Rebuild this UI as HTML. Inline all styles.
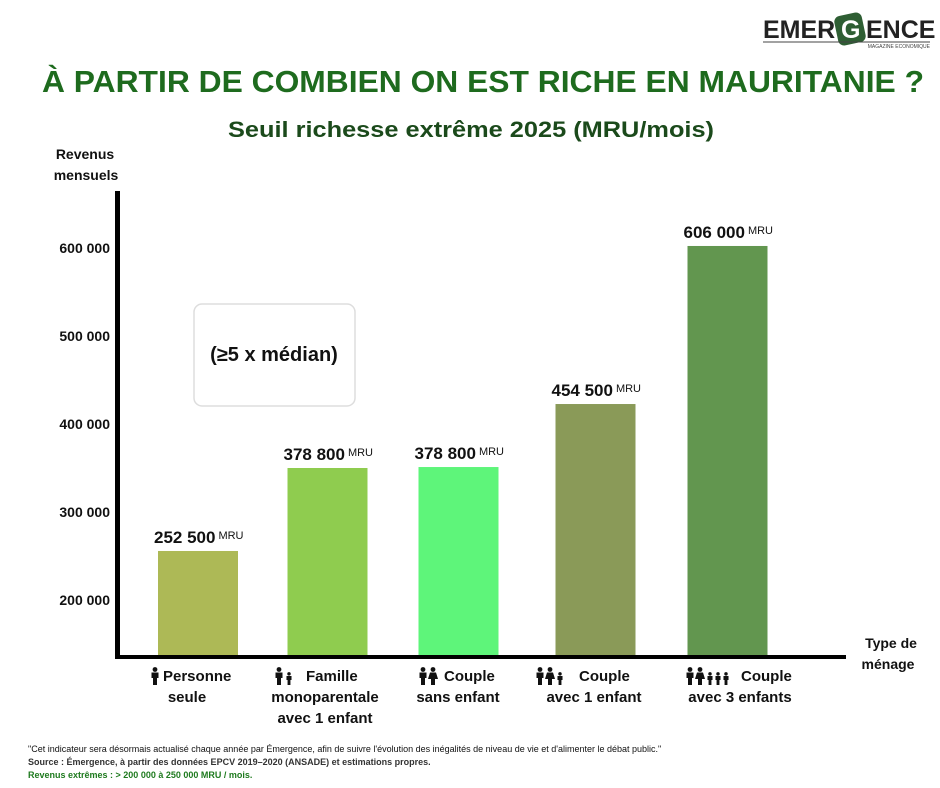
<!DOCTYPE html>
<html><head><meta charset="utf-8"><style>
html,body{margin:0;padding:0;background:#fff;}
#wrap{position:relative;width:940px;height:788px;overflow:hidden;font-family:"Liberation Sans",Arial,sans-serif;}
svg text{font-family:"Liberation Sans",Arial,sans-serif;}
</style></head><body>
<div id="wrap">
<svg id="chart" width="940" height="788" viewBox="0 0 940 788">
<g>
<text x="763" y="38" font-size="25" font-weight="bold" fill="#222">EMER</text>
<rect x="836" y="14" width="28" height="30" rx="6" fill="#2e5e33" transform="rotate(-12 850 29)"/>
<text x="841" y="38" font-size="25" font-weight="bold" fill="#fff">G</text>
<text x="866" y="38" font-size="25" font-weight="bold" fill="#222">ENCE</text>
<line x1="763" y1="42" x2="930" y2="42" stroke="#444" stroke-width="1"/>
<text x="930" y="48" font-size="5" fill="#444" text-anchor="end">MAGAZINE ECONOMIQUE</text>
</g>
<text x="483" y="92" font-size="31" font-weight="bold" fill="#1e6b1e" text-anchor="middle" textLength="882" lengthAdjust="spacingAndGlyphs">À PARTIR DE COMBIEN ON EST RICHE EN MAURITANIE ?</text>
<text x="471" y="137" font-size="22" font-weight="bold" fill="#1b4a1b" text-anchor="middle" textLength="486" lengthAdjust="spacingAndGlyphs">Seuil richesse extrême 2025 (MRU/mois)</text>
<text x="85" y="159" font-size="14" font-weight="bold" fill="#111" text-anchor="middle">Revenus</text>
<text x="86" y="180" font-size="14" font-weight="bold" fill="#111" text-anchor="middle">mensuels</text>
<text x="891" y="648" font-size="14" font-weight="bold" fill="#111" text-anchor="middle">Type de</text>
<text x="888" y="669" font-size="14" font-weight="bold" fill="#111" text-anchor="middle">ménage</text>
<g>
<rect x="194" y="304" width="161" height="102" rx="8" fill="#fff" stroke="#ddd" stroke-width="1.5"/>
<text x="274" y="361" font-size="20" font-weight="bold" fill="#111" text-anchor="middle">(≥5 x médian)</text>
</g>
<g id="yticks"></g>
<g id="bars"></g>
<line x1="117.5" y1="191" x2="117.5" y2="659" stroke="#000" stroke-width="5"/>
<line x1="115" y1="657" x2="846" y2="657" stroke="#000" stroke-width="4"/>
<g id="xlabels"></g>
<text x="28" y="752" font-size="9" fill="#111">"Cet indicateur sera désormais actualisé chaque année par Émergence, afin de suivre l'évolution des inégalités de niveau de vie et d'alimenter le débat public."</text>
<text x="28" y="765" font-size="9" font-weight="bold" fill="#333">Source : Émergence, à partir des données EPCV 2019–2020 (ANSADE) et estimations propres.</text>
<text x="28" y="778" font-size="9" font-weight="bold" fill="#1e7a1e">Revenus extrêmes : &gt; 200 000 à 250 000 MRU / mois.</text>
</svg>
</div>
<script>
const tickValues = [200000, 300000, 400000, 500000, 600000];
const tickLabels = ["200 000", "300 000", "400 000", "500 000", "600 000"];
const categories = ["Personne seule", "Famille monoparentale avec 1 enfant", "Couple sans enfant", "Couple avec 1 enfant", "Couple avec 3 enfants"];
const barValues = [255700, 350000, 351100, 422700, 602300];
const valueLabels = ["252 500", "378 800", "378 800", "454 500", "606 000"];
const barColors = ["#adb956", "#8fcc4f", "#5ef57a", "#8a9a58", "#62964f"];

const NS = "http://www.w3.org/2000/svg";
function y(v){ return 600 - (v - 200000) / 100000 * 88; }
const baseY = 657;
const bandCenters = [198, 327.5, 458.5, 595.5, 727.5];
function xCenter(i){ return bandCenters[i]; }
const barW = 80;

const yt = document.getElementById('yticks');
tickValues.forEach((v, i) => {
  const t = document.createElementNS(NS, 'text');
  t.setAttribute('x', 110); t.setAttribute('y', y(v) + 5);
  t.setAttribute('font-size', '14'); t.setAttribute('font-weight', 'bold');
  t.setAttribute('text-anchor', 'end'); t.setAttribute('fill', '#111');
  
  
  t.textContent = tickLabels[i];
  yt.appendChild(t);
});

const bg = document.getElementById('bars');
barValues.forEach((v, i) => {
  const cx = xCenter(i);
  const r = document.createElementNS(NS, 'rect');
  r.setAttribute('x', cx - barW / 2); r.setAttribute('y', y(v));
  r.setAttribute('width', barW); r.setAttribute('height', baseY - y(v));
  r.setAttribute('fill', barColors[i]);
  
  
  bg.appendChild(r);
  const t = document.createElementNS(NS, 'text');
  t.setAttribute('x', cx - 44); t.setAttribute('y', y(v) - 8);
  t.setAttribute('font-size', '17'); t.setAttribute('font-weight', 'bold'); t.setAttribute('fill', '#111');
  
  
  t.textContent = valueLabels[i];
  const s = document.createElementNS(NS, 'tspan');
  s.setAttribute('font-size', '11'); s.setAttribute('font-weight', 'normal'); s.setAttribute('dx', '3'); s.setAttribute('dy', '-4');
  s.textContent = 'MRU';
  t.appendChild(s);
  bg.appendChild(t);
});

const labelLines = [["Personne","seule"],["Famille","monoparentale","avec 1 enfant"],["Couple","sans enfant"],["Couple","avec 1 enfant"],["Couple","avec 3 enfants"]];
const icons = [["a"],["a","c"],["a","w"],["a","w","c"],["a","w","c","c","c"]];
const xl = document.getElementById('xlabels');
function person(g, x, yTop, kind){
  const s = kind === 'c' ? 0.72 : 1;
  const top = yTop + (1 - s) * 18;
  const h = document.createElementNS(NS, 'circle');
  h.setAttribute('cx', x); h.setAttribute('cy', top + 2.5 * s); h.setAttribute('r', 2.4 * s); h.setAttribute('fill', '#111');
  g.appendChild(h);
  const b = document.createElementNS(NS, 'path');
  let d;
  if (kind === 'w') d = `M${x-3*s},${top+5.5*s} L${x+3*s},${top+5.5*s} L${x+5*s},${top+12*s} L${x+2*s},${top+12*s} L${x+2*s},${top+18*s} L${x-2*s},${top+18*s} L${x-2*s},${top+12*s} L${x-5*s},${top+12*s} Z`;
  else d = `M${x-3.5*s},${top+5.5*s} L${x+3.5*s},${top+5.5*s} L${x+3.5*s},${top+11*s} L${x+2*s},${top+11*s} L${x+2*s},${top+18*s} L${x-2*s},${top+18*s} L${x-2*s},${top+11*s} L${x-3.5*s},${top+11*s} Z`;
  b.setAttribute('d', d); b.setAttribute('fill', '#111');
  g.appendChild(b);
}
const firstX = [163, 306, 444, 579, 741];
const centerX = [187, 325, 458, 594, 740];
const iconStart = [155, 279, 423, 540, 690];
categories.forEach((c, i) => {
  const g = document.createElementNS(NS, 'g');
  
  
  const lines = labelLines[i];
  lines.forEach((ln, j) => {
    const t = document.createElementNS(NS, 'text');
    t.setAttribute('font-size', '15'); t.setAttribute('font-weight', 'bold'); t.setAttribute('fill', '#111');
    t.setAttribute('y', 681 + j * 21);
    if (j === 0) { t.setAttribute('x', firstX[i]); }
    else { t.setAttribute('x', centerX[i]); t.setAttribute('text-anchor', 'middle'); }
    t.textContent = ln;
    g.appendChild(t);
  });
  let ix = iconStart[i];
  icons[i].forEach((k) => { person(g, ix, 667, k); ix += (k === 'c' ? 8 : 10); });
  xl.appendChild(g);
});
</script>
</body></html>
